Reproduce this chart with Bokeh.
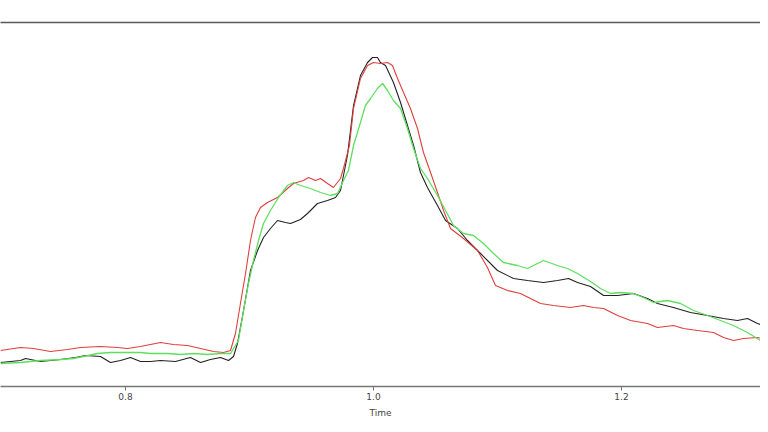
from bokeh.plotting import figure
from bokeh.models import Range1d, LinearAxis, FixedTicker, PrintfTickFormatter
from bokeh.embed import file_html
from bokeh.resources import INLINE

# Time (s) and intensity (arbitrary units)
black_t = [0.6992, 0.7153, 0.7194, 0.7315, 0.7476, 0.7597, 0.7677, 0.7798, 0.7879, 0.7960,
           0.8040, 0.8121, 0.8202, 0.8282, 0.8403, 0.8524, 0.8605, 0.8685, 0.8766, 0.8831,
           0.8871, 0.8903, 0.8952, 0.9008, 0.9065, 0.9113, 0.9169, 0.9226, 0.9290, 0.9331,
           0.9411, 0.9468, 0.9548, 0.9629, 0.9694, 0.9734, 0.9790, 0.9839, 0.9895, 0.9952,
           0.9992, 1.0032, 1.0056, 1.0097, 1.0161, 1.0218, 1.0274, 1.0323, 1.0379, 1.0435,
           1.0516, 1.0581, 1.0677, 1.0758, 1.0863, 1.1000, 1.1129, 1.1242, 1.1371, 1.1484,
           1.1573, 1.1645, 1.1750, 1.1855, 1.1968, 1.2097, 1.2210, 1.2290, 1.2419, 1.2556,
           1.2694, 1.2823, 1.2935, 1.3016, 1.3097, 1.3185]
black_v = [24, 26, 28, 25, 27, 29, 31, 30, 24, 26,
           29, 25, 25, 26, 25, 29, 24, 27, 29, 26,
           30, 43, 76, 116, 136, 149, 158, 166, 164, 163,
           167, 173, 183, 186, 189, 196, 231, 281, 311, 324,
           329, 329, 324, 321, 304, 284, 261, 241, 214, 199,
           181, 166, 158, 146, 133, 116, 108, 106, 104, 106,
           108, 104, 100, 91, 91, 93, 88, 83, 79, 74,
           71, 68, 66, 68, 63, 59]

red_t = [0.6992, 0.7153, 0.7258, 0.7395, 0.7532, 0.7637, 0.7798, 0.7935, 0.8016, 0.8121,
         0.8202, 0.8282, 0.8387, 0.8500, 0.8605, 0.8710, 0.8790, 0.8847, 0.8887, 0.8927,
         0.8968, 0.9008, 0.9048, 0.9089, 0.9145, 0.9226, 0.9306, 0.9355, 0.9435, 0.9476,
         0.9532, 0.9573, 0.9629, 0.9677, 0.9734, 0.9758, 0.9806, 0.9839, 0.9895, 0.9952,
         1.0000, 1.0056, 1.0113, 1.0153, 1.0194, 1.0242, 1.0298, 1.0355, 1.0403, 1.0460,
         1.0516, 1.0565, 1.0621, 1.0726, 1.0839, 1.0919, 1.0984, 1.1081, 1.1185, 1.1266,
         1.1347, 1.1452, 1.1589, 1.1694, 1.1774, 1.1855, 1.1968, 1.2073, 1.2210, 1.2290,
         1.2419, 1.2500, 1.2613, 1.2742, 1.2823, 1.2903, 1.2984, 1.3097, 1.3185]
red_v = [36, 39, 38, 35, 37, 39, 40, 39, 38, 40,
         42, 44, 42, 41, 38, 35, 34, 36, 53, 83,
         113, 146, 169, 179, 184, 189, 198, 203, 206, 209,
         206, 208, 203, 199, 208, 218, 241, 278, 308, 321,
         324, 323, 324, 321, 308, 294, 278, 258, 234, 214,
         194, 176, 158, 148, 136, 119, 101, 96, 93, 88,
         83, 81, 79, 81, 79, 78, 71, 66, 63, 59,
         61, 58, 56, 54, 49, 46, 48, 49, 47]

green_t = [0.6992, 0.7153, 0.7315, 0.7476, 0.7581, 0.7661, 0.7774, 0.7879, 0.8016, 0.8121,
           0.8202, 0.8339, 0.8444, 0.8548, 0.8661, 0.8766, 0.8847, 0.8911, 0.8952, 0.8992,
           0.9032, 0.9073, 0.9113, 0.9169, 0.9234, 0.9306, 0.9355, 0.9411, 0.9492, 0.9573,
           0.9653, 0.9710, 0.9758, 0.9798, 0.9839, 0.9895, 0.9935, 0.9976, 1.0032, 1.0073,
           1.0113, 1.0161, 1.0218, 1.0274, 1.0323, 1.0379, 1.0435, 1.0516, 1.0581, 1.0645,
           1.0726, 1.0806, 1.0887, 1.0968, 1.1048, 1.1161, 1.1242, 1.1290, 1.1371, 1.1484,
           1.1565, 1.1645, 1.1750, 1.1831, 1.1911, 1.1992, 1.2097, 1.2177, 1.2258, 1.2371,
           1.2476, 1.2581, 1.2694, 1.2798, 1.2903, 1.3016, 1.3121, 1.3185]
green_v = [23, 24, 26, 27, 28, 30, 33, 34, 34, 34,
           33, 33, 32, 33, 32, 33, 33, 46, 76, 103,
           126, 146, 163, 176, 189, 201, 204, 201, 198, 194,
           191, 193, 206, 216, 241, 264, 281, 288, 298, 303,
           296, 286, 278, 258, 238, 218, 208, 191, 176, 161,
           153, 151, 143, 133, 124, 121, 118, 121, 126, 121,
           118, 113, 105, 98, 93, 94, 93, 89, 84, 86,
           83, 76, 71, 66, 61, 54, 46, 39]

x_ticks = [0.8, 1.0, 1.2]
x_label = "Time"

p = figure(width=760, height=424, output_backend="svg", toolbar_location=None,
           x_range=Range1d(0.6992, 1.3121), y_range=Range1d(0, 364),
           min_border_left=0, min_border_right=0, min_border_top=22, min_border_bottom=38)
p.outline_line_color = None
p.background_fill_color = "white"
p.border_fill_color = "white"
p.grid.visible = False
p.yaxis.visible = False

p.line(black_t, black_v, line_color="#222222", line_width=1.1)
p.line(red_t, red_v, line_color="#e03e3e", line_width=1.1)
p.line(green_t, green_v, line_color="#5ee05e", line_width=1.3)

xa = p.xaxis[0]
xa.ticker = FixedTicker(ticks=x_ticks)
xa.formatter = PrintfTickFormatter(format="%.1f")
xa.axis_label = x_label
xa.axis_line_color = "#777777"
xa.axis_line_width = 1.3
xa.major_tick_line_color = "#777777"
xa.major_tick_in = 0
xa.major_tick_out = 4
xa.minor_tick_line_color = None
xa.major_label_standoff = 2
xa.major_label_text_font = "DejaVu Sans"
xa.major_label_text_font_size = "9px"
xa.major_label_text_color = "#444444"
xa.axis_label_text_font = "DejaVu Sans"
xa.axis_label_text_font_size = "9px"
xa.axis_label_text_font_style = "normal"
xa.axis_label_text_color = "#444444"
xa.axis_label_standoff = 5

top = LinearAxis(ticker=FixedTicker(ticks=[]), axis_line_color="#5a5a5a", axis_line_width=1.6,
                 major_tick_line_color=None, minor_tick_line_color=None,
                 major_label_text_font_size="0px")
p.add_layout(top, "above")

open("out.html", "w").write(file_html(p, INLINE))
